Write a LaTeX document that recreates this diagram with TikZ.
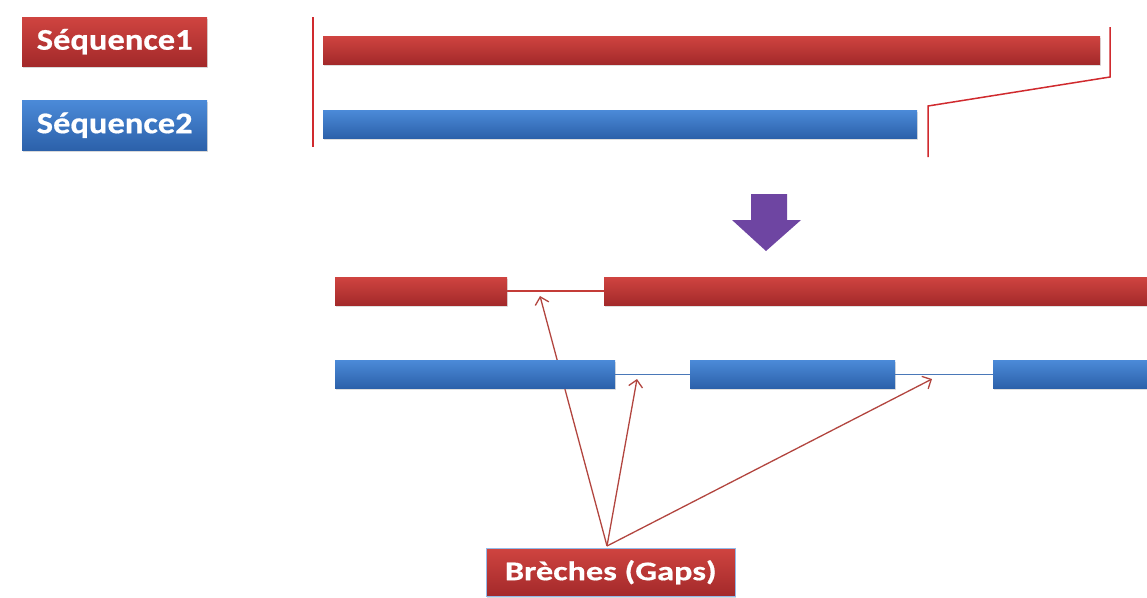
\documentclass[tikz,border=0pt]{standalone}
\usepackage{fontspec}
\newfontfamily\labfont[FakeStretch=1.15,FakeBold=0.6]{Carlito}
\newfontfamily\gapfont[FakeStretch=1.27,FakeBold=0.6]{Carlito}
\usetikzlibrary{arrows.meta,shadows,backgrounds}
\definecolor{rtop}{HTML}{CF4440}
\definecolor{rbot}{HTML}{A3292A}
\definecolor{btop}{HTML}{4B8AD8}
\definecolor{bbot}{HTML}{2C61AA}
\definecolor{redline}{HTML}{D02A2E}
\definecolor{arrowc}{HTML}{B2453F}
\definecolor{purp}{HTML}{6E45A2}
\tikzset{
  bar/.style={rectangle, inner sep=0pt, anchor=north west, minimum height=28pt,
    drop shadow={shadow xshift=1pt, shadow yshift=-2pt, opacity=0.25}},
  rbar/.style={bar, top color=rtop, bottom color=rbot},
  bbar/.style={bar, top color=btop, bottom color=bbot},
  lab/.style={rectangle, inner sep=0pt, anchor=north west,
    drop shadow={shadow xshift=1pt, shadow yshift=-2pt, opacity=0.3}},
  labtext/.style={text=white, inner sep=0pt},
  redgap/.style={draw={rgb,255:red,196;green,60;blue,56}, line width=1.6pt},
  bluegap/.style={draw={rgb,255:red,74;green,120;blue,184}, line width=1.3pt},
  brk/.style={draw=redline, line width=1.5pt},
  gaparrow/.style={color=arrowc, line width=1.3pt, -{Straight Barb[length=7pt,width=14pt]}}
}
\begin{document}
\begin{tikzpicture}[x=1pt,y=-1pt]
\useasboundingbox (0,0) rectangle (1147,597);
% labels
\node[lab, top color=rtop, bottom color=rbot, minimum width=185pt, minimum height=49pt] (s1) at (22,17) {};
\node[labtext, font=\labfont\bfseries\fontsize{30}{30}\selectfont] (s1t) at (s1.center) {Séquence1};
\node[lab, top color=btop, bottom color=bbot, minimum width=185pt, minimum height=50pt] (s2) at (22,100) {};
\node[labtext, font=\labfont\bfseries\fontsize{30}{30}\selectfont] (s2t) at (s2.center) {Séquence2};
% top bars
\node[rbar, minimum width=777pt] (r1) at (323,36) {};
\node[bbar, minimum width=594pt] (b1) at (323,110) {};
% lower red bars
\node[rbar, minimum width=172pt] (ra) at (335,277) {};
\node[rbar, minimum width=543pt] (rb) at (604,277) {};
% lower blue bars
\node[bbar, minimum width=280pt] (ba) at (335,360) {};
\node[bbar, minimum width=205pt] (bb) at (690,360) {};
\node[bbar, minimum width=154pt] (bc) at (993,360) {};
% gaps label
\node[lab, top color=rtop, bottom color=rbot, draw=btop!60, line width=0.6pt, minimum width=249pt, minimum height=48pt] (g) at (486,548) {};
\node[labtext, font=\gapfont\bfseries\fontsize{27}{27}\selectfont] (gt) at (g.center) {Brèches (Gaps)};
\begin{pgfonlayer}{background}
% vertical line left
\coordinate (v1) at (313,17);
\coordinate (v2) at (313,147);
\draw[brk] (v1) -- (v2);
% bracket right
\coordinate (k1) at (1110,27);
\coordinate (k2) at (1110,77);
\coordinate (k3) at (928,106);
\coordinate (k4) at (928,157);
\draw[brk, line join=miter] (k1) -- (k2) -- (k3) -- (k4);
% purple arrow
\fill[purp] (751,194) -- (787,194) -- (787,220) -- (801,220) -- (766,251) -- (732,220) -- (751,220) -- cycle;
% gap lines
\draw[redgap] (ra.east) -- (rb.west);
\draw[bluegap] (ba.east) -- (bb.west);
\draw[bluegap] (bb.east) -- (bc.west);
% arrows
\coordinate (src) at (607,546);
\coordinate (t1) at (540,296);
\coordinate (t2) at (637,379);
\coordinate (t3) at (932,379);
\draw[gaparrow] (src) -- (t1);
\draw[gaparrow] (src) -- (t2);
\draw[gaparrow] (src) -- (t3);
\end{pgfonlayer}
\end{tikzpicture}
\end{document}
